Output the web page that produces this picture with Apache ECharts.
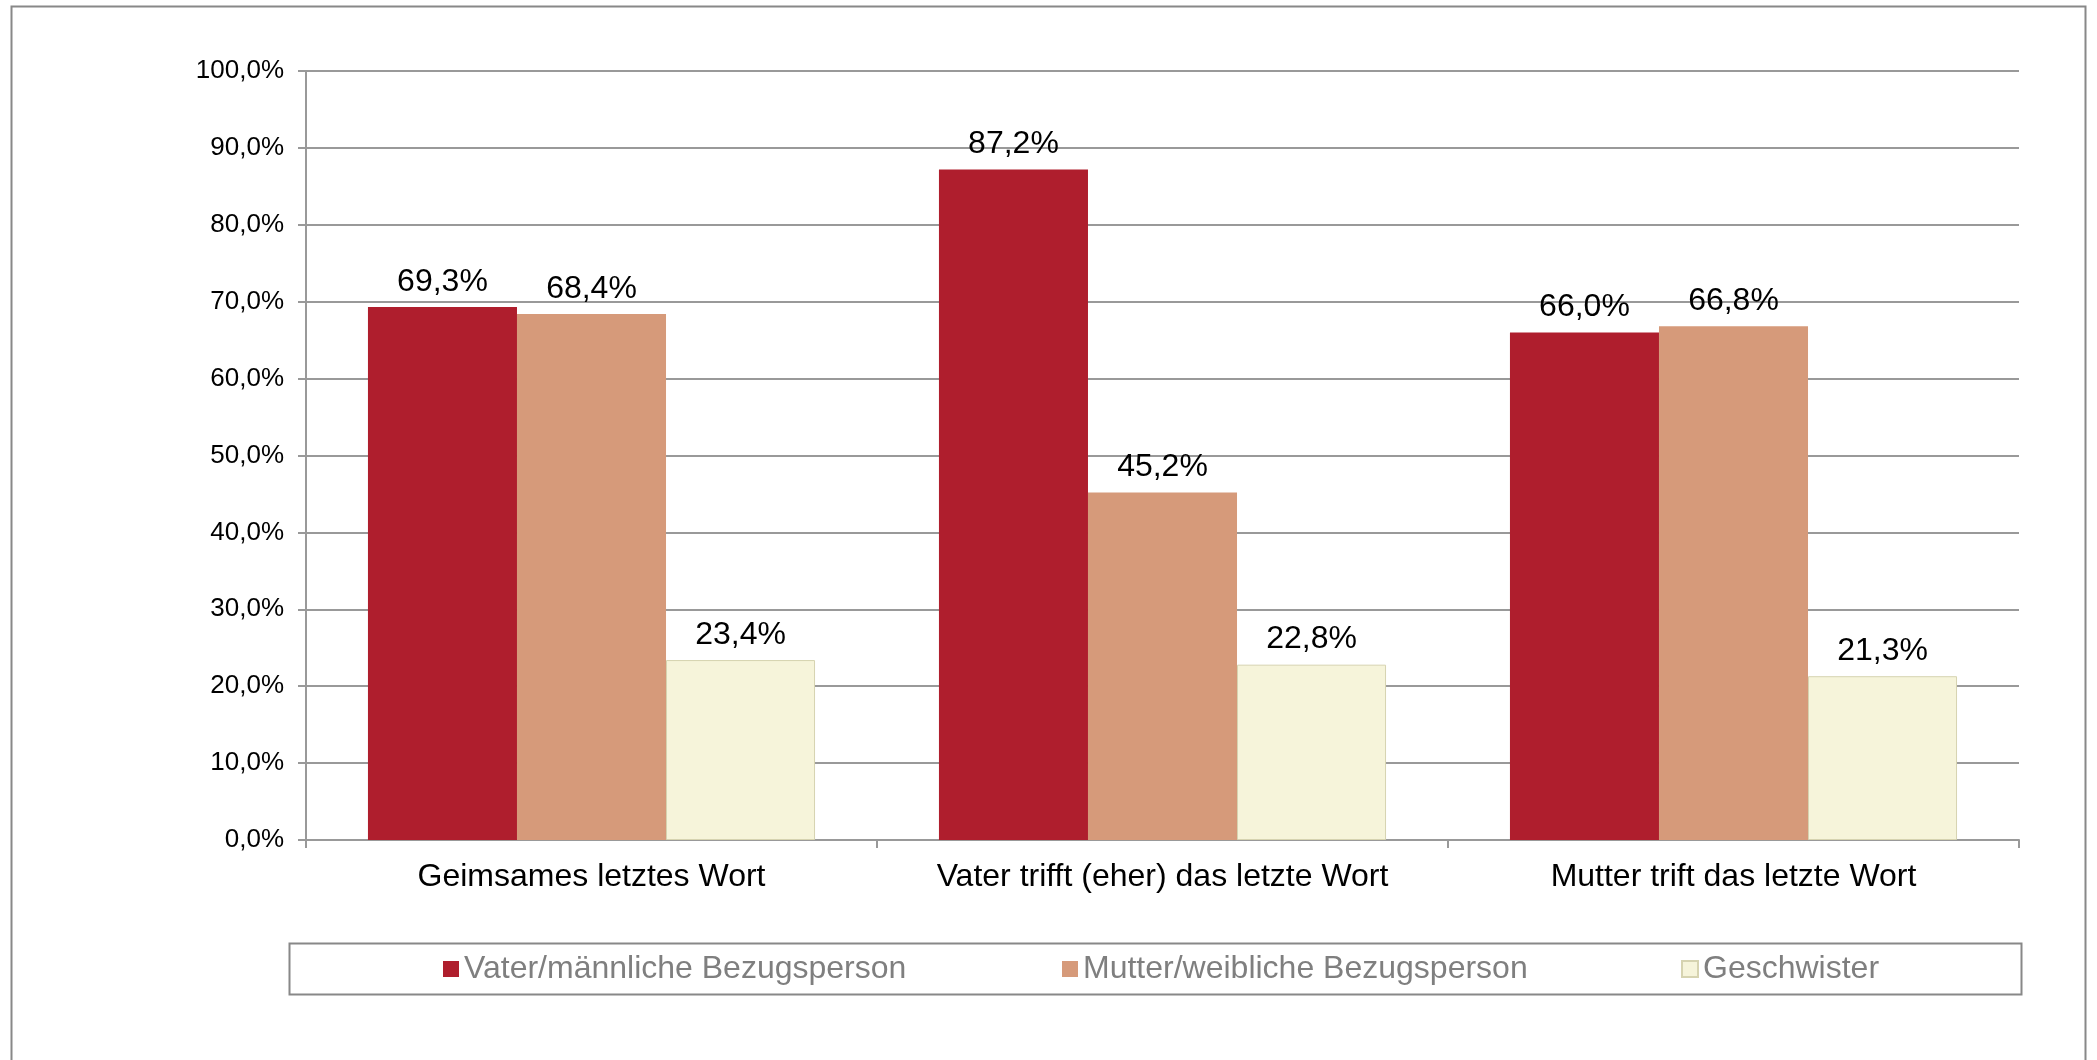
<!doctype html>
<html>
<head>
<meta charset="UTF-8">
<title>Letztes Wort</title>
<script src="https://cdn.jsdelivr.net/npm/echarts@6/dist/echarts.min.js"></script>
<style>
  html, body { margin: 0; padding: 0; background: #fff; }
  #main { width: 2097px; height: 1060px; }
</style>
</head>
<body>
<div id="main"></div>
<script>
// Daten
var categories = ['Geimsames letztes Wort', 'Vater trifft (eher) das letzte Wort', 'Mutter trift das letzte Wort'];
var seriesNames = ['Vater/männliche Bezugsperson', 'Mutter/weibliche Bezugsperson', 'Geschwister'];
var vaterData = [69.3, 87.2, 66.0];
var mutterData = [68.4, 45.2, 66.8];
var geschwisterData = [23.4, 22.8, 21.3];

var fontFam = 'Liberation Sans, Arial, sans-serif';

function pct(v) {
  return v.toFixed(1).replace('.', ',') + '%';
}

var myChart = echarts.init(document.getElementById('main'));

var labelCfg = {
  show: true,
  position: 'top',
  distance: 9,
  color: '#000',
  fontSize: 32,
  fontFamily: fontFam,
  formatter: function (p) { return pct(p.value); }
};

function legendAt(name, left) {
  return {
    data: [name],
    left: left,
    top: 948,
    itemWidth: 16,
    itemHeight: 16,
    itemGap: 8,
    icon: 'rect',
    textStyle: { color: '#7f7f7f', fontSize: 32, fontFamily: fontFam, padding: [0, 0, 0, 0] }
  };
}

var option = {
  animation: false,
  backgroundColor: '#fff',
  textStyle: { fontFamily: fontFam },
  graphic: [
    {
      type: 'rect',
      shape: { x: 11.5, y: 6.5, width: 2074, height: 1080 },
      style: { fill: 'none', stroke: '#888', lineWidth: 2 }
    },
    {
      type: 'rect',
      shape: { x: 289.5, y: 943.5, width: 1732, height: 51 },
      style: { fill: 'none', stroke: '#888', lineWidth: 2 }
    }
  ],
  legend: [
    legendAt(seriesNames[0], 438),
    legendAt(seriesNames[1], 1057),
    legendAt(seriesNames[2], 1676)
  ],
  grid: {
    left: 306,
    right: 78,
    top: 71,
    bottom: 220,
    containLabel: false
  },
  xAxis: {
    type: 'category',
    data: categories,
    axisLine: { lineStyle: { color: '#999', width: 2 } },
    axisTick: { show: true, interval: 0, length: 8, lineStyle: { color: '#999', width: 2 } },
    axisLabel: { interval: 0, color: '#000', fontSize: 32, margin: 21, fontFamily: fontFam }
  },
  yAxis: {
    type: 'value',
    min: 0,
    max: 100,
    interval: 10,
    axisLine: { show: true, lineStyle: { color: '#999', width: 2 } },
    axisTick: { show: true, length: 8, lineStyle: { color: '#999', width: 2 } },
    axisLabel: {
      color: '#000',
      fontSize: 26,
      margin: 22,
      fontFamily: fontFam,
      formatter: function (v) { return pct(v); }
    },
    splitLine: { lineStyle: { color: '#999', width: 2 } }
  },
  series: [
    {
      name: seriesNames[0],
      type: 'bar',
      data: vaterData,
      barGap: '0%',
      barCategoryGap: '21.7%',
      itemStyle: { color: '#af1e2d' },
      label: labelCfg
    },
    {
      name: seriesNames[1],
      type: 'bar',
      data: mutterData,
      barGap: '0%',
      barCategoryGap: '21.7%',
      itemStyle: { color: '#d69a7a' },
      label: labelCfg
    },
    {
      name: seriesNames[2],
      type: 'bar',
      data: geschwisterData,
      barGap: '0%',
      barCategoryGap: '21.7%',
      itemStyle: { color: '#f6f4da', borderColor: '#d6d3b0', borderWidth: 1 },
      label: labelCfg
    }
  ]
};

myChart.setOption(option);
</script>
</body>
</html>
